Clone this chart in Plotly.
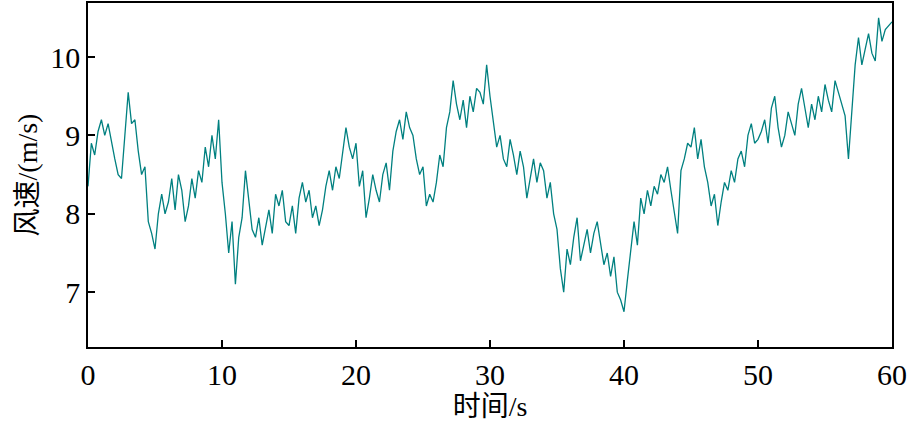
import plotly.graph_objects as go

# wind speed samples, every 0.25 s from 0 to 60 s
wind_0_10 = [8.35, 8.9, 8.75, 9.05, 9.2, 9.0, 9.15, 8.9, 8.7, 8.5, 8.45, 9.0, 9.55, 9.15, 9.2, 8.8, 8.5, 8.6, 7.9, 7.75,
             7.55, 8.0, 8.25, 8.0, 8.15, 8.45, 8.05, 8.5, 8.3, 7.9, 8.1, 8.45, 8.2, 8.55, 8.4, 8.85, 8.6, 9.0, 8.7, 9.2]
wind_10_20 = [8.4, 8.0, 7.5, 7.9, 7.1, 7.7, 7.95, 8.55, 8.2, 7.8, 7.7, 7.95, 7.6, 7.85, 8.05, 7.75, 8.25, 8.1, 8.3, 7.9,
              7.85, 8.1, 7.75, 8.2, 8.4, 8.15, 8.3, 7.95, 8.1, 7.85, 8.05, 8.35, 8.55, 8.3, 8.6, 8.45, 8.8, 9.1, 8.85, 8.7]
wind_20_30 = [8.9, 8.35, 8.55, 7.95, 8.2, 8.5, 8.3, 8.15, 8.5, 8.65, 8.3, 8.8, 9.05, 9.2, 8.95, 9.3, 9.1, 9.0, 8.7, 8.5,
              8.6, 8.1, 8.25, 8.15, 8.4, 8.75, 8.6, 9.1, 9.3, 9.7, 9.4, 9.2, 9.45, 9.1, 9.5, 9.3, 9.6, 9.55, 9.4, 9.9]
wind_30_40 = [9.5, 9.2, 8.85, 9.0, 8.7, 8.6, 8.95, 8.75, 8.5, 8.8, 8.6, 8.2, 8.45, 8.7, 8.4, 8.65, 8.55, 8.2, 8.4, 8.0,
              7.8, 7.3, 7.0, 7.55, 7.35, 7.7, 7.95, 7.4, 7.6, 7.8, 7.5, 7.75, 7.9, 7.6, 7.35, 7.5, 7.2, 7.45, 7.0, 6.9]
wind_40_50 = [6.75, 7.15, 7.5, 7.9, 7.6, 8.2, 8.0, 8.3, 8.1, 8.35, 8.25, 8.5, 8.4, 8.6, 8.3, 8.0, 7.75, 8.55, 8.7, 8.9,
              8.85, 9.1, 8.7, 8.95, 8.6, 8.4, 8.1, 8.25, 7.85, 8.15, 8.4, 8.3, 8.55, 8.4, 8.7, 8.8, 8.6, 9.0, 9.15, 8.9]
wind_50_60 = [8.95, 9.05, 9.2, 8.9, 9.35, 9.5, 9.1, 8.85, 9.0, 9.3, 9.15, 9.0, 9.4, 9.6, 9.35, 9.1, 9.4, 9.2, 9.5, 9.3,
              9.65, 9.45, 9.3, 9.7, 9.55, 9.4, 9.25, 8.7, 9.35, 9.9, 10.25, 9.9, 10.1, 10.3, 10.05, 9.95, 10.5, 10.2, 10.35, 10.4,
              10.45]

wind = wind_0_10 + wind_10_20 + wind_20_30 + wind_30_40 + wind_40_50 + wind_50_60
dt = 0.25
t = [i * dt for i in range(len(wind))]

font = "Liberation Serif, Noto Sans CJK SC"

fig = go.Figure(go.Scatter(x=t, y=wind, mode="lines",
                           line=dict(color="rgb(0,128,128)", width=1.3),
                           showlegend=False))

axis_style = dict(showline=True, linecolor="black", linewidth=1.5, mirror=True,
                  ticks="inside", ticklen=7, tickwidth=1.5, tickcolor="black",
                  showgrid=False, zeroline=False, automargin=False,
                  tickfont=dict(family=font, size=30, color="black"))

fig.update_layout(
    width=911, height=426,
    margin=dict(l=88, r=19, t=3, b=79),
    plot_bgcolor="white", paper_bgcolor="white",
    xaxis=dict(range=[0, 60], tickvals=[0, 10, 20, 30, 40, 50, 60],
               title=dict(text="时间/s", font=dict(family=font, size=28, color="black"), standoff=2),
               **axis_style),
    yaxis=dict(range=[6.3, 10.69], tickvals=[7, 8, 9, 10],
               title=dict(text="风速/(m/s)", font=dict(family=font, size=28, color="black"), standoff=4),
               **axis_style),
)

# drop the default page margin so the figure sits at the window's corner
fig.write_html("out.html", config={"displayModeBar": False},
               post_script="document.body.style.margin='0';")
